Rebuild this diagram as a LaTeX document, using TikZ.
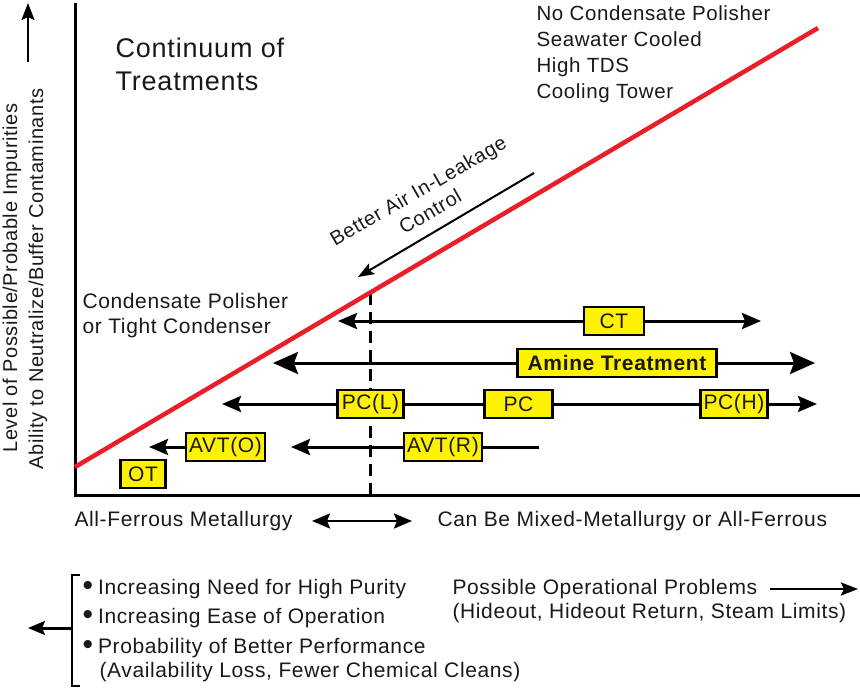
\documentclass[tikz,border=0pt]{standalone}
\usepackage{fontspec}
\setmainfont{Liberation Sans}[LetterSpace=3]
\usetikzlibrary{arrows.meta,positioning,shadows}

\definecolor{redline}{RGB}{234,30,40}
\newcommand{\txt}{\fontsize{21}{25}\selectfont}
\newcommand{\blt}{\raisebox{-1.5pt}{\fontsize{30}{25}\selectfont\textbullet}\hspace{5pt}}

\begin{document}
\begin{tikzpicture}[x=1pt,y=-1pt,>={Stealth[length=19pt,width=16pt,inset=3pt]},
                    font=\txt,text=black!90]
  \tikzstyle{treat}=[draw=black,fill=yellow,line width=2.2pt,minimum height=28pt,
                     inner xsep=3pt,inner ysep=0pt,
                     drop shadow={shadow xshift=1.3pt,shadow yshift=-1.3pt,fill=gray!60,opacity=1}]
  \tikzstyle{row}=[line width=3pt]
  \tikzstyle{axis}=[line width=3pt]
  \useasboundingbox (0,0) rectangle (860,688);

  % axes
  \coordinate (YT) at (75,3);
  \coordinate (O)  at (75,495);
  \coordinate (XR) at (860,495);
  \draw[axis] (YT) -- (O) -- (XR);
  \coordinate (YA)  at (28,62);
  \coordinate (YAt) at (28,3);
  \draw[line width=2pt,->,>={Stealth[length=17pt,width=13pt,inset=3pt]}] (YA) -- (YAt);
  \node[rotate=90,font=\fontsize{20}{24}\selectfont] (YL1) at (12,278) {Level of Possible/Probable Impurities};
  \node[rotate=90,font=\fontsize{20}{24}\selectfont] (YL2) at (38,279) {Ability to Neutralize/Buffer Contaminants};

  % continuum line
  \coordinate (RL) at (75,467);
  \coordinate (RH) at (818,28);
  \coordinate (DT) at (370,293);
  \coordinate (DB) at (370,495);
  \draw[line width=3pt,dash pattern=on 12pt off 7pt] (DT) -- (DB);
  \draw[redline,line width=4.5pt] (RL) -- (RH);

  \node[anchor=west,align=left,font=\fontsize{27}{33}\selectfont] (TTL) at (112,64)
  {Continuum of\\Treatments};
  \node[anchor=west,align=left,font=\fontsize{20.5}{26}\selectfont] (NCP) at (533,54)
  {No Condensate Polisher\\Seawater Cooled\\High TDS\\Cooling Tower};
  \node[anchor=west,align=left] (CPT) at (79,316)
  {Condensate Polisher\\or Tight Condenser};

  \node[rotate=30,align=center,font=\fontsize{20}{24}\selectfont] (BAC) at (424,201)
  {Better Air In-Leakage\\Control};
  \coordinate (BA1) at (534,173);
  \coordinate (BA2) at (358,277);
  \draw[line width=2pt,->,>={Stealth[length=16pt,width=12pt,inset=3pt]}] (BA1) -- (BA2);

  % treatments
  \node[treat,minimum width=60pt] (CT) at (614,321) {CT};
  \coordinate (CTl) at (338,321);
  \coordinate (CTr) at (761,321);
  \draw[row,->] (CT.west) -- (CTl);
  \draw[row,->] (CT.east) -- (CTr);

  \node[treat,minimum width=199pt,font=\txt\bfseries] (AMT) at (617,363) {Amine Treatment};
  \coordinate (AMl) at (273,363);
  \coordinate (AMr) at (815,363);
  \draw[row,->,>={Stealth[length=25pt,width=22pt,inset=4pt]}] (AMT.west) -- (AMl);
  \draw[row,->,>={Stealth[length=25pt,width=22pt,inset=4pt]}] (AMT.east) -- (AMr);

  \node[treat,minimum width=66pt] (PCL) at (370.5,404) {PC(L)};
  \node[treat,minimum width=68pt] (PC)  at (518.5,404) {PC};
  \node[treat,minimum width=67pt] (PCH) at (734,404) {PC(H)};
  \coordinate (PCl) at (222,404);
  \coordinate (PCr) at (817,404);
  \draw[row,->] (PCL.west) -- (PCl);
  \draw[row] (PCL.east) -- (PC.west);
  \draw[row] (PC.east) -- (PCH.west);
  \draw[row,->] (PCH.east) -- (PCr);

  \node[treat,minimum width=76pt] (AVTO) at (225.5,447) {AVT(O)};
  \node[treat,minimum width=77pt] (AVTR) at (443,447) {AVT(R)};
  \coordinate (AVOl) at (149,447);
  \coordinate (AVRl) at (291,447);
  \coordinate (AVRr) at (539,447);
  \draw[row,->] (AVTO.west) -- (AVOl);
  \draw[row,->] (AVTR.west) -- (AVRl);
  \draw[row] (AVTR.east) -- (AVRr);

  \node[treat,minimum width=45pt] (OT) at (143,474) {OT};

  % metallurgy
  \node[anchor=west] (AFM) at (71,521) {All-Ferrous Metallurgy};
  \node[anchor=west] (CBM) at (434,521) {Can Be Mixed-Metallurgy or All-Ferrous};
  \coordinate (MA1) at (312,521);
  \coordinate (MA2) at (412,521);
  \draw[line width=2.5pt,<->,>={Stealth[length=18pt,width=15pt,inset=3pt]}] (MA1) -- (MA2);

  % bottom notes
  \coordinate (BRt)  at (80,575);
  \coordinate (BRtl) at (72,575);
  \coordinate (BRbl) at (72,686);
  \coordinate (BRb)  at (80,686);
  \draw[line width=2.5pt] (BRt) -- (BRtl) -- (BRbl) -- (BRb);
  \coordinate (BRm) at (72,628);
  \coordinate (BRa) at (28,628);
  \draw[line width=3pt,->,>={Stealth[length=17pt,width=14pt,inset=3pt]}] (BRm) -- (BRa);

  \node[anchor=west] (B1) at (79,589) {\blt Increasing Need for High Purity};
  \node[anchor=west] (B2) at (79,618) {\blt Increasing Ease of Operation};
  \node[anchor=west] (B3) at (79,648) {\blt Probability of Better Performance};
  \node[anchor=west] (B4) at (96,672) {(Availability Loss, Fewer Chemical Cleans)};

  \node[anchor=west] (POP) at (449,589) {Possible Operational Problems};
  \node[anchor=west] (HID) at (449,613) {(Hideout, Hideout Return, Steam Limits)};
  \coordinate (POa) at (858,589);
  \draw[line width=2.5pt,->,>={Stealth[length=17pt,width=13pt,inset=3pt]},shorten <=9pt]
  (POP.east) -- (POa);
\end{tikzpicture}
\end{document}
